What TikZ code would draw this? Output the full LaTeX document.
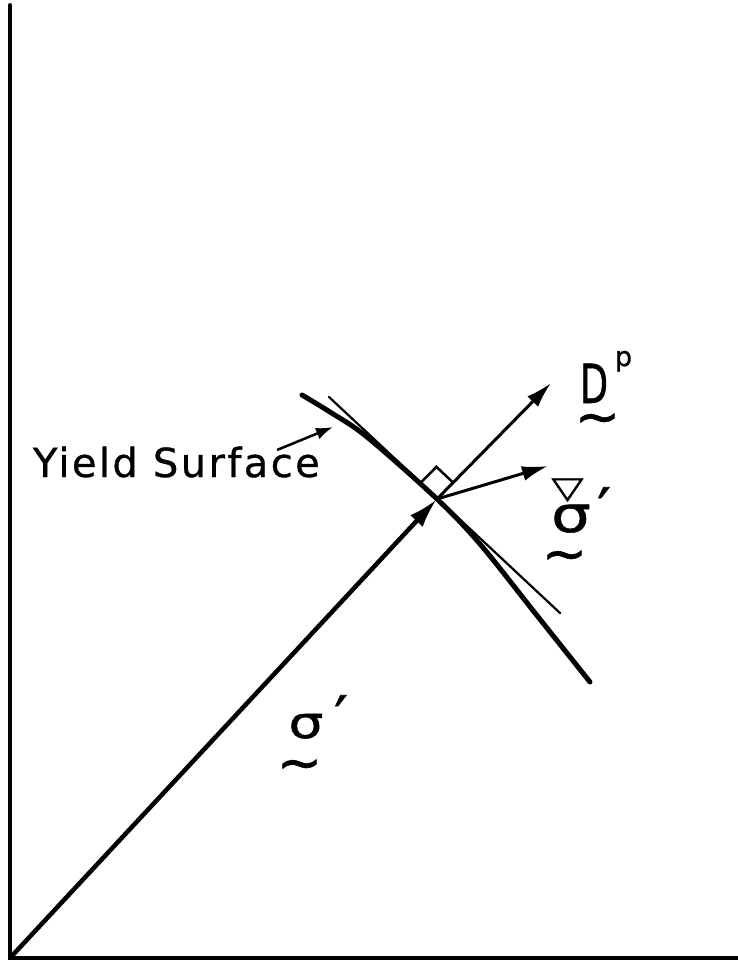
\documentclass[tikz,border=0pt]{standalone}
\usepackage{fontspec}
\setmainfont{DejaVu Sans}
\usetikzlibrary{arrows.meta,calc}
\tikzset{
  axisline/.style={line width=4pt, line cap=round},
  thickarrow/.style={line width=4.5pt, -{Latex[length=30pt,width=17pt]}},
  medarrow/.style={line width=3pt, -{Latex[length=26pt,width=15pt]}},
  labarrow/.style={line width=2.5pt, -{Latex[length=17pt,width=12pt]}},
  yieldcurve/.style={line width=5pt, line cap=round},
  tangentline/.style={line width=2.2pt, line cap=round},
  lbl/.style={inner sep=0pt, outer sep=0pt},
  bfont/.style={font=\fontsize{#1}{#1}\selectfont\addfontfeature{FakeBold=1}},
}
\begin{document}
\begin{tikzpicture}[x=1pt,y=-1pt]
\useasboundingbox (0,0) rectangle (738,964);
% axes
\coordinate (top) at (10,5);
\coordinate (O) at (10,958);
\coordinate (right) at (738,958);
\draw[axisline] (top) -- (O) -- (right);
% key points
\coordinate (P) at (437,499);
\coordinate (T1) at (329,397);
\coordinate (T2) at (560,613);
\coordinate (Dtip) at (551,383);
\coordinate (Ntip) at (548,466);
% yield surface
\draw[yieldcurve] plot[smooth, tension=0.55] coordinates
  {(302,395) (330,412) (367,437) (437,499) (480,544) (535,613) (590,682)};
% tangent
\draw[tangentline] (T1) -- (T2);
% stress vector
\draw[thickarrow] (O) -- (P);
% normal and rate
\draw[medarrow] (P) -- (Dtip);
\draw[medarrow] (P) -- (Ntip);
% right angle mark
\coordinate (sqA) at ($(P)!23pt!(T1)$);
\coordinate (sqC) at ($(P)!23pt!(Dtip)$);
\coordinate (sqB) at ($(sqA)+(sqC)-(P)$);
\draw[line width=2.5pt, line join=miter] (sqA) -- (sqB) -- (sqC);
% label
\node[lbl, anchor=base west, font=\fontsize{40}{40}\selectfont\addfontfeature{LetterSpace=6,FakeBold=0.8}] (ys) at (33,477) {Yield Surface};
\coordinate (LA) at (277,450);
\coordinate (LB) at (333,427);
\draw[labarrow] (LA) -- (LB);
% D^p
\node[lbl, anchor=base, bfont=54] (D) at (594,403) {\scalebox{0.68}[1]{D}};
\node[lbl, anchor=base, bfont=27] (Dp) at (623.5,366) {p};
\node[lbl, anchor=base, bfont=54] (Dtil) at (597.5,435) {∼};
% sigma nabla prime
\node[lbl, anchor=base, bfont=38] (nab) at (567.5,498) {\scalebox{1.1}[0.8]{▽}};
\node[lbl, anchor=base, bfont=50] (sn) at (571,532) {\scalebox{1.25}[1]{σ}};
\node[lbl, anchor=base, bfont=60] (snp) at (604,531) {′};
\node[lbl, anchor=base, bfont=54] (sntil) at (564.5,572) {∼};
% sigma prime
\node[lbl, anchor=base, bfont=44] (s) at (306,738) {\scalebox{1.25}[1]{σ}};
\node[lbl, anchor=base, bfont=60] (sp) at (341,739) {′};
\node[lbl, anchor=base, bfont=54] (stil) at (299.5,781) {∼};
\end{tikzpicture}
\end{document}
